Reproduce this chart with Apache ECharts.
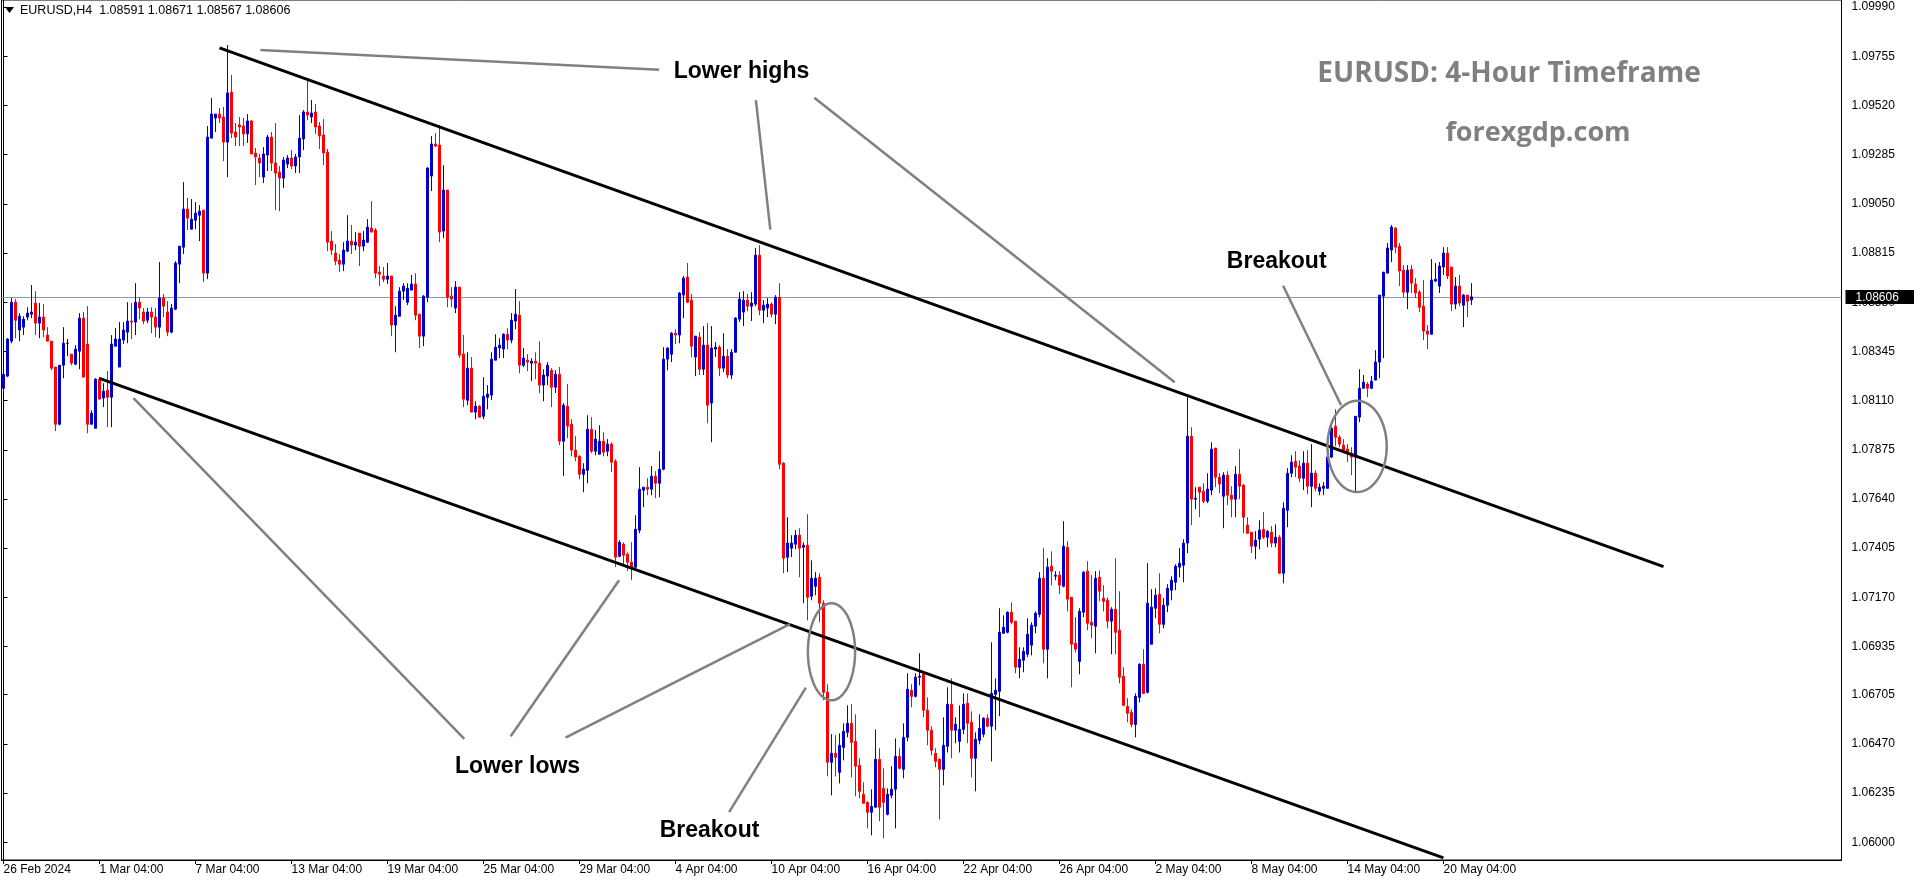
<!DOCTYPE html>
<html><head><meta charset="utf-8">
<script src="https://cdn.jsdelivr.net/npm/echarts@6.0.0/dist/echarts.min.js"></script>
<style>html,body{margin:0;padding:0;background:#fff}#c{width:1914px;height:884px}</style>
</head><body><div id="c"></div>
<script>
const opens = [
1.08169,1.08227,1.08394,1.08580,1.08447,1.08461,1.08509,1.08523,1.08576,1.08480,
1.08509,1.08423,1.08394,1.08270,1.07997,1.08279,1.08384,1.08332,1.08284,1.08346,
1.08504,1.08380,1.07997,1.07978,1.08212,1.08122,1.08160,1.08126,1.08370,1.08270,
1.08399,1.08437,1.08490,1.08485,1.08580,1.08533,1.08494,1.08533,1.08509,1.08461,
1.08600,1.08533,1.08437,1.08547,1.08762,1.08843,1.09025,1.08929,1.08972,1.08996,
1.09020,1.08719,1.09364,1.09460,1.09479,1.09465,1.09345,1.09584,1.09393,1.09427,
1.09422,1.09384,1.09446,1.09293,1.09269,1.09178,1.09283,1.09369,1.09245,1.09202,
1.09173,1.09240,1.09269,1.09231,1.09274,1.09360,1.09489,1.09465,1.09489,1.09422,
1.09379,1.09297,1.08872,1.08815,1.08781,1.08762,1.08824,1.08872,1.08853,1.08910,
1.08848,1.08867,1.08934,1.08925,1.08724,1.08705,1.08690,1.08705,1.08471,1.08513,
1.08633,1.08580,1.08638,1.08667,1.08523,1.08418,1.08604,1.09183,1.09336,1.09331,
1.08920,1.09116,1.08609,1.08552,1.08652,1.08332,1.08112,1.08265,1.08055,1.08083,
1.08035,1.08126,1.08136,1.08303,1.08361,1.08356,1.08427,1.08399,1.08490,1.08518,
1.08279,1.08303,1.08289,1.08298,1.08289,1.08184,1.08227,1.08255,1.08174,1.08236,
1.07916,1.08083,1.07997,1.07873,1.07844,1.07758,1.07777,1.07973,1.07868,1.07854,
1.07916,1.07868,1.07902,1.07820,1.07366,1.07424,1.07376,1.07338,1.07314,1.07491,
1.07682,1.07696,1.07687,1.07749,1.07715,1.07782,1.08308,1.08332,1.08432,1.08423,
1.08614,1.08700,1.08590,1.08318,1.08413,1.08260,1.08375,1.08098,1.08356,1.08365,
1.08265,1.08322,1.08232,1.08341,1.08499,1.08533,1.08590,1.08561,1.08571,1.08805,
1.08542,1.08552,1.08571,1.08523,1.08604,1.07811,1.07362,1.07405,1.07424,1.07467,
1.07409,1.07419,1.07175,1.07223,1.07266,1.07142,1.06716,1.06382,1.06425,1.06334,
1.06453,1.06525,1.06568,1.06482,1.06367,1.06229,1.06190,1.06143,1.06167,1.06396,
1.06257,1.06133,1.06224,1.06253,1.06410,1.06348,1.06501,1.06726,1.06697,1.06788,
1.06802,1.06630,1.06535,1.06425,1.06396,1.06348,1.06458,1.06659,1.06535,1.06482,
1.06539,1.06664,1.06573,1.06401,1.06487,1.06516,1.06592,1.06554,1.06707,1.06721,
1.06998,1.07003,1.07099,1.07056,1.06836,1.06869,1.06898,1.06941,1.07032,1.07089,
1.07261,1.06922,1.07319,1.07271,1.07276,1.07223,1.07409,1.07170,1.06951,1.06864,
1.07099,1.07295,1.07051,1.07032,1.07266,1.07166,1.07156,1.07056,1.07113,1.07013,
1.06793,1.06649,1.06621,1.06563,1.06692,1.06850,1.06716,1.06946,1.07118,1.07185,
1.07041,1.07132,1.07204,1.07242,1.07314,1.07323,1.07429,1.07940,1.07639,1.07696,
1.07677,1.07629,1.07682,1.07883,1.07744,1.07653,1.07754,1.07658,1.07639,1.07758,
1.07706,1.07515,1.07481,1.07414,1.07448,1.07495,1.07457,1.07481,1.07429,1.07457,
1.07285,1.07586,1.07763,1.07820,1.07797,1.07739,1.07811,1.07701,1.07763,1.07677,
1.07691,1.07691,1.07840,1.07988,1.07935,1.07897,1.07878,1.07859,1.07840,1.08031,
1.08169,1.08189,1.08169,1.08208,1.08294,1.08609,1.08719,1.08829,1.08934,1.08848,
1.08733,1.08628,1.08738,1.08667,1.08628,1.08561,1.08442,1.08427,1.08681,1.08657,
1.08748,1.08815,1.08748,1.08571,1.08657,1.08566,1.08614,1.08591];
const closes = [
1.08236,1.08404,1.08580,1.08494,1.08513,1.08499,1.08528,1.08533,1.08480,1.08509,
1.08447,1.08394,1.08265,1.07997,1.08279,1.08384,1.08384,1.08289,1.08356,1.08504,
1.08222,1.07997,1.08050,1.08212,1.08117,1.08155,1.08126,1.08380,1.08404,1.08404,
1.08447,1.08490,1.08485,1.08580,1.08552,1.08490,1.08533,1.08509,1.08461,1.08600,
1.08561,1.08437,1.08552,1.08767,1.08848,1.09025,1.08982,1.08977,1.09006,1.09015,
1.08719,1.09369,1.09479,1.09479,1.09460,1.09345,1.09580,1.09388,1.09369,1.09417,
1.09384,1.09446,1.09288,1.09274,1.09245,1.09288,1.09369,1.09245,1.09197,1.09173,
1.09259,1.09269,1.09231,1.09274,1.09364,1.09489,1.09474,1.09484,1.09417,1.09374,
1.09293,1.08867,1.08829,1.08776,1.08762,1.08829,1.08872,1.08853,1.08867,1.08848,
1.08877,1.08939,1.08915,1.08719,1.08714,1.08690,1.08705,1.08471,1.08518,1.08633,
1.08657,1.08647,1.08667,1.08518,1.08418,1.08609,1.09221,1.09336,1.09326,1.08915,
1.09116,1.08604,1.08595,1.08652,1.08327,1.08117,1.08265,1.08055,1.08083,1.08031,
1.08131,1.08141,1.08308,1.08365,1.08375,1.08427,1.08399,1.08494,1.08523,1.08279,
1.08313,1.08294,1.08298,1.08289,1.08184,1.08232,1.08279,1.08174,1.08236,1.07916,
1.08088,1.07988,1.07873,1.07840,1.07758,1.07782,1.07973,1.07868,1.07926,1.07916,
1.07863,1.07902,1.07816,1.07362,1.07433,1.07371,1.07338,1.07314,1.07495,1.07687,
1.07696,1.07687,1.07749,1.07715,1.07782,1.08308,1.08361,1.08432,1.08423,1.08624,
1.08695,1.08580,1.08370,1.08418,1.08260,1.08375,1.08088,1.08361,1.08365,1.08265,
1.08322,1.08232,1.08341,1.08504,1.08595,1.08590,1.08561,1.08576,1.08805,1.08542,
1.08566,1.08571,1.08523,1.08604,1.07806,1.07357,1.07429,1.07429,1.07467,1.07405,
1.07419,1.07170,1.07261,1.07261,1.07142,1.06716,1.06382,1.06425,1.06406,1.06463,
1.06530,1.06568,1.06477,1.06363,1.06243,1.06186,1.06143,1.06171,1.06396,1.06167,
1.06190,1.06229,1.06253,1.06410,1.06353,1.06501,1.06731,1.06697,1.06788,1.06793,
1.06630,1.06535,1.06439,1.06386,1.06348,1.06463,1.06659,1.06535,1.06563,1.06539,
1.06659,1.06568,1.06401,1.06492,1.06544,1.06592,1.06554,1.06711,1.06726,1.07003,
1.07027,1.07099,1.07051,1.06836,1.06874,1.06912,1.06994,1.07037,1.07094,1.07261,
1.06922,1.07314,1.07295,1.07276,1.07228,1.07414,1.07161,1.06946,1.06922,1.07103,
1.07290,1.07046,1.07037,1.07261,1.07199,1.07151,1.07056,1.07113,1.07003,1.06788,
1.06654,1.06616,1.06563,1.06697,1.06850,1.06711,1.07142,1.07123,1.07180,1.07041,
1.07132,1.07213,1.07252,1.07319,1.07333,1.07429,1.07940,1.07639,1.07644,1.07672,
1.07629,1.07687,1.07878,1.07744,1.07711,1.07754,1.07658,1.07639,1.07758,1.07701,
1.07553,1.07476,1.07414,1.07443,1.07491,1.07457,1.07486,1.07429,1.07457,1.07285,
1.07596,1.07763,1.07816,1.07792,1.07739,1.07811,1.07701,1.07763,1.07691,1.07696,
1.07701,1.07840,1.07978,1.07935,1.07902,1.07873,1.07859,1.07840,1.08035,1.08169,
1.08198,1.08169,1.08203,1.08294,1.08614,1.08724,1.08839,1.08939,1.08843,1.08729,
1.08628,1.08733,1.08671,1.08624,1.08556,1.08442,1.08427,1.08686,1.08690,1.08753,
1.08815,1.08705,1.08571,1.08657,1.08576,1.08614,1.08585,1.08606];
const lows = [
1.08146,1.08222,1.08384,1.08408,1.08394,1.08423,1.08494,1.08504,1.08423,1.08408,
1.08413,1.08394,1.08255,1.07964,1.07992,1.08217,1.08322,1.08279,1.08279,1.08260,
1.08222,1.07954,1.07997,1.07978,1.08117,1.08079,1.07983,1.07983,1.08370,1.08270,
1.08380,1.08384,1.08404,1.08423,1.08499,1.08475,1.08480,1.08432,1.08413,1.08408,
1.08509,1.08418,1.08432,1.08542,1.08671,1.08810,1.08925,1.08929,1.08929,1.08872,
1.08676,1.08690,1.09364,1.09393,1.09436,1.09254,1.09178,1.09364,1.09326,1.09326,
1.09326,1.09341,1.09288,1.09140,1.09178,1.09149,1.09207,1.09207,1.09020,1.09015,
1.09125,1.09221,1.09216,1.09197,1.09197,1.09307,1.09450,1.09436,1.09384,1.09312,
1.09235,1.08824,1.08805,1.08757,1.08724,1.08729,1.08819,1.08810,1.08829,1.08753,
1.08824,1.08863,1.08915,1.08695,1.08657,1.08676,1.08667,1.08418,1.08341,1.08513,
1.08590,1.08566,1.08638,1.08494,1.08361,1.08370,1.08580,1.09111,1.09321,1.08867,
1.08886,1.08556,1.08556,1.08528,1.08313,1.08079,1.08088,1.08055,1.08021,1.08031,
1.08021,1.08069,1.08112,1.08303,1.08313,1.08313,1.08356,1.08384,1.08451,1.08241,
1.08270,1.08251,1.08203,1.08212,1.08146,1.08107,1.08184,1.08079,1.08146,1.07897,
1.07749,1.07930,1.07844,1.07820,1.07734,1.07672,1.07715,1.07859,1.07849,1.07854,
1.07844,1.07844,1.07768,1.07314,1.07362,1.07323,1.07295,1.07252,1.07309,1.07476,
1.07601,1.07658,1.07658,1.07644,1.07648,1.07777,1.08255,1.08294,1.08380,1.08384,
1.08504,1.08576,1.08318,1.08227,1.08232,1.08232,1.08002,1.07911,1.08318,1.08227,
1.08246,1.08217,1.08212,1.08341,1.08485,1.08466,1.08537,1.08490,1.08561,1.08518,
1.08480,1.08509,1.08509,1.08475,1.07782,1.07285,1.07290,1.07362,1.07400,1.07266,
1.07142,1.07060,1.07156,1.07180,1.07051,1.06678,1.06315,1.06224,1.06315,1.06281,
1.06391,1.06501,1.06310,1.06219,1.06210,1.06186,1.06066,1.06033,1.06167,1.06100,
1.06018,1.06128,1.06210,1.06066,1.06348,1.06305,1.06482,1.06645,1.06692,1.06750,
1.06597,1.06463,1.06415,1.06358,1.06109,1.06272,1.06429,1.06401,1.06473,1.06429,
1.06516,1.06473,1.06310,1.06243,1.06468,1.06501,1.06549,1.06386,1.06535,1.06602,
1.06998,1.06998,1.07041,1.06807,1.06783,1.06812,1.06884,1.06893,1.06998,1.07075,
1.06855,1.06783,1.07228,1.07252,1.07185,1.07218,1.07103,1.06740,1.06907,1.06802,
1.07075,1.07013,1.06974,1.06903,1.07151,1.07103,1.07022,1.06898,1.06898,1.06759,
1.06649,1.06573,1.06549,1.06501,1.06668,1.06707,1.06711,1.06946,1.07070,1.06998,
1.07022,1.07099,1.07156,1.07204,1.07266,1.07242,1.07381,1.07515,1.07591,1.07553,
1.07620,1.07620,1.07658,1.07696,1.07668,1.07500,1.07610,1.07553,1.07553,1.07639,
1.07476,1.07476,1.07381,1.07352,1.07400,1.07448,1.07409,1.07409,1.07409,1.07285,
1.07237,1.07505,1.07744,1.07744,1.07720,1.07682,1.07663,1.07601,1.07677,1.07658,
1.07658,1.07691,1.07835,1.07892,1.07887,1.07859,1.07816,1.07754,1.07668,1.08007,
1.08169,1.08126,1.08165,1.08208,1.08217,1.08313,1.08719,1.08772,1.08815,1.08657,
1.08604,1.08547,1.08624,1.08600,1.08533,1.08399,1.08356,1.08427,1.08676,1.08624,
1.08710,1.08690,1.08537,1.08547,1.08561,1.08461,1.08509,1.08567];
const highs = [
1.08241,1.08408,1.08600,1.08595,1.08528,1.08513,1.08556,1.08662,1.08633,1.08576,
1.08571,1.08461,1.08394,1.08270,1.08279,1.08461,1.08404,1.08332,1.08375,1.08528,
1.08533,1.08561,1.08064,1.08217,1.08222,1.08193,1.08251,1.08423,1.08456,1.08485,
1.08485,1.08580,1.08576,1.08671,1.08604,1.08552,1.08552,1.08556,1.08552,1.08772,
1.08619,1.08585,1.08571,1.08776,1.08848,1.09154,1.09078,1.09073,1.09058,1.09044,
1.09020,1.09422,1.09556,1.09479,1.09508,1.09513,1.09809,1.09666,1.09436,1.09465,
1.09460,1.09479,1.09450,1.09317,1.09288,1.09321,1.09379,1.09393,1.09436,1.09231,
1.09274,1.09283,1.09307,1.09288,1.09474,1.09498,1.09642,1.09546,1.09527,1.09441,
1.09455,1.09312,1.08920,1.08858,1.08810,1.08867,1.08996,1.08949,1.08915,1.08910,
1.08920,1.08977,1.09063,1.08934,1.08753,1.08748,1.08767,1.08705,1.08561,1.08652,
1.08671,1.08671,1.08710,1.08719,1.08523,1.08614,1.09226,1.09374,1.09388,1.09427,
1.09235,1.09116,1.08652,1.08681,1.08652,1.08423,1.08341,1.08318,1.08107,1.08088,
1.08222,1.08184,1.08341,1.08427,1.08408,1.08432,1.08456,1.08528,1.08643,1.08585,
1.08361,1.08332,1.08313,1.08341,1.08394,1.08260,1.08294,1.08265,1.08255,1.08270,
1.08098,1.08189,1.08021,1.07940,1.07849,1.07811,1.08040,1.08031,1.07969,1.07992,
1.07959,1.07926,1.07911,1.07830,1.07443,1.07433,1.07385,1.07433,1.07562,1.07792,
1.07696,1.07739,1.07797,1.07773,1.07868,1.08365,1.08365,1.08437,1.08451,1.08628,
1.08705,1.08767,1.08619,1.08418,1.08437,1.08466,1.08480,1.08466,1.08389,1.08375,
1.08432,1.08356,1.08356,1.08509,1.08628,1.08633,1.08619,1.08628,1.08839,1.08853,
1.08590,1.08600,1.08580,1.08614,1.08671,1.07816,1.07553,1.07467,1.07491,1.07500,
1.07433,1.07567,1.07347,1.07290,1.07285,1.07156,1.06755,1.06516,1.06511,1.06520,
1.06568,1.06654,1.06659,1.06611,1.06401,1.06286,1.06195,1.06253,1.06539,1.06449,
1.06353,1.06257,1.06363,1.06496,1.06449,1.06568,1.06807,1.06755,1.06807,1.06903,
1.06812,1.06692,1.06554,1.06449,1.06401,1.06597,1.06740,1.06783,1.06597,1.06654,
1.06711,1.06711,1.06625,1.06525,1.06611,1.06597,1.06611,1.06955,1.06783,1.07118,
1.07084,1.07103,1.07146,1.07056,1.06931,1.06931,1.07070,1.07051,1.07103,1.07290,
1.07405,1.07357,1.07390,1.07295,1.07295,1.07534,1.07438,1.07170,1.07075,1.07118,
1.07295,1.07342,1.07276,1.07295,1.07299,1.07228,1.07170,1.07123,1.07357,1.07199,
1.06836,1.06688,1.06635,1.06711,1.06855,1.06922,1.07333,1.07209,1.07213,1.07285,
1.07166,1.07233,1.07271,1.07328,1.07405,1.07448,1.08126,1.07983,1.07696,1.07696,
1.07715,1.07763,1.07911,1.07883,1.07763,1.07768,1.07773,1.07701,1.07797,1.07878,
1.07711,1.07553,1.07481,1.07486,1.07538,1.07577,1.07491,1.07510,1.07519,1.07467,
1.07624,1.07787,1.07849,1.07868,1.07825,1.07868,1.07873,1.07902,1.07777,1.07715,
1.07720,1.07849,1.08002,1.08069,1.07945,1.07926,1.07902,1.07887,1.08035,1.08260,
1.08232,1.08198,1.08227,1.08351,1.08614,1.08724,1.08863,1.08949,1.08939,1.08863,
1.08757,1.08757,1.08757,1.08695,1.08638,1.08686,1.08471,1.08786,1.08767,1.08772,
1.08843,1.08843,1.08748,1.08700,1.08710,1.08619,1.08614,1.08671];

const dateTickLabels = ["26 Feb 2024","1 Mar 04:00","7 Mar 04:00","13 Mar 04:00","19 Mar 04:00","25 Mar 04:00","29 Mar 04:00","4 Apr 04:00","10 Apr 04:00","16 Apr 04:00","22 Apr 04:00","26 Apr 04:00","2 May 04:00","8 May 04:00","14 May 04:00","20 May 04:00"];
const priceTickLabels = ["1.09990","1.09755","1.09520","1.09285","1.09050","1.08815","1.08580","1.08345","1.08110","1.07875","1.07640","1.07405","1.07170","1.06935","1.06705","1.06470","1.06235","1.06000"];
const lastPrice = 1.08606;
const headerText = "EURUSD,H4  1.08591 1.08671 1.08567 1.08606";
const titleText = "EURUSD: 4-Hour Timeframe";
const siteText = "forexgdp.com";
// trend lines: [barIndex1, price1, barIndex2, price2]
const trendLines = [[54, 1.09795, 415, 1.07317], [24, 1.08216, 360, 1.05925]];
const pointerLines = [
 [64.2, 1.09785, 163.9, 1.09691],
 [188.1, 1.09546, 191.7, 1.08927],
 [202.7, 1.09557, 292.8, 1.08198],
 [32.5, 1.08122, 115.2, 1.06494],
 [126.8, 1.06506, 153.9, 1.07252],
 [140.5, 1.06500, 196.6, 1.07042],
 [181.4, 1.06144, 200.6, 1.06739],
 [319.9, 1.08659, 334.4, 1.08088]];
// ellipses: [centerBar, centerPrice, radiusBars, radiusPrice]
const ellipses = [[207, 1.06910, 5.9, 0.00232], [338.4, 1.07891, 7.4, 0.00218]];
const notes = [[184.5, 1.09680, "Lower highs"], [128.5, 1.06362, "Lower lows"], [176.5, 1.06056, "Breakout"], [318.3, 1.08775, "Breakout"]];

const SLOTS = 460;
const cats = Array.from({length: SLOTS}, (_, i) => String(i));
const showTick = (i) => i % 24 === 0 && (i / 24) < dateTickLabels.length;
const candleData = opens.map((o, i) => {
  const item = { value: [o, closes[i], lows[i], highs[i]] };
  if (o === closes[i]) item.itemStyle = { color: '#000', color0: '#000', borderColor: '#000', borderColor0: '#000' };
  return item;
});
const UP = '#0000CC', DOWN = '#FF0000';
const FONT = '"Liberation Sans", Arial, sans-serif';

const chart = echarts.init(document.getElementById('c'), null, { renderer: 'canvas' });
chart.setOption({
  animation: false,
  backgroundColor: '#fff',
  grid: { left: 1.5, right: 72.5, top: 0, bottom: 24, show: true, borderColor: '#000', borderWidth: 1, backgroundColor: '#fff' },
  xAxis: [{
    type: 'category', data: cats, boundaryGap: true,
    axisLine: { show: true, lineStyle: { color: '#000', width: 1 } },
    axisTick: { show: true, alignWithLabel: true, interval: (i) => showTick(i), length: 4, lineStyle: { color: '#000' } },
    axisLabel: { show: true, interval: (i) => showTick(i), formatter: (v, i) => dateTickLabels[Math.round(Number(v) / 24)] || '', align: 'left', margin: 4, color: '#000', fontFamily: FONT, fontSize: 12 },
    splitLine: { show: false }
  }, {
    type: 'value', min: -0.5, max: SLOTS - 0.5, show: false
  }],
  yAxis: {
    type: 'value', position: 'right', min: 1.05915, max: 1.10024,
    axisLine: { show: true, lineStyle: { color: '#000' } },
    axisTick: { show: true, inside: false, length: 4, lineStyle: { color: '#000' }, customValues: priceTickLabels.map(Number) },
    axisLabel: { show: true, customValues: priceTickLabels.map(Number), formatter: (v) => v.toFixed(5), color: '#000', margin: 10, fontFamily: FONT, fontSize: 12 },
    splitLine: { show: false }
  },
  graphic: [
    { type: 'polygon', shape: { points: [[5, 7], [14, 7], [9.5, 13]] }, style: { fill: '#000' }, z: 100 },
    { type: 'text', left: 20, top: 4, style: { text: headerText, font: '12.5px ' + FONT, fill: '#000' }, z: 100 },
    { type: 'text', x: 1509, y: 74, style: { text: titleText, font: 'bold 28px "Open Sans"', fill: '#808080', align: 'center', verticalAlign: 'middle' }, z: 100 },
    { type: 'text', x: 1538, y: 133, style: { text: siteText, font: 'bold 27px "Open Sans"', fill: '#808080', align: 'center', verticalAlign: 'middle' }, z: 100 }
  ],
  series: [
    {
      type: 'custom', xAxisIndex: 1, yAxisIndex: 0, data: [[lastPrice]], encode: { y: 0 }, z: 1, clip: false, silent: true,
      renderItem: (p, api) => {
        const a = api.coord([-0.5, api.value(0)]), b = api.coord([SLOTS - 0.5, api.value(0)]);
        const y = Math.round(a[1]) + 0.5;
        return { type: 'group', children: [
          { type: 'line', shape: { x1: a[0], y1: y, x2: b[0], y2: y }, style: { stroke: '#8C98A8', lineWidth: 1 } },
          { type: 'rect', shape: { x: b[0] + 4, y: y - 7.5, width: 80, height: 14 }, style: { fill: '#000' }, z2: 50 },
          { type: 'text', x: b[0] + 14, y: y, style: { text: lastPrice.toFixed(5), fill: '#fff', font: '12px ' + FONT, verticalAlign: 'middle', align: 'left' }, z2: 51 }
        ] };
      }
    },
    {
      type: 'candlestick', xAxisIndex: 0, yAxisIndex: 0, data: candleData,
      barWidth: 2,
      itemStyle: { color: UP, color0: DOWN, borderColor: UP, borderColor0: DOWN, borderWidth: 1 },
      z: 3
    },
    {
      type: 'custom', xAxisIndex: 1, yAxisIndex: 0, data: trendLines, encode: { x: [0, 2], y: [1, 3] }, z: 5, clip: true,
      renderItem: (p, api) => {
        const a = api.coord([api.value(0), api.value(1)]), b = api.coord([api.value(2), api.value(3)]);
        return { type: 'line', shape: { x1: a[0], y1: a[1], x2: b[0], y2: b[1] }, style: { stroke: '#000', lineWidth: 3 } };
      }
    },
    {
      type: 'custom', xAxisIndex: 1, yAxisIndex: 0, data: pointerLines, encode: { x: [0, 2], y: [1, 3] }, z: 5,
      renderItem: (p, api) => {
        const a = api.coord([api.value(0), api.value(1)]), b = api.coord([api.value(2), api.value(3)]);
        return { type: 'line', shape: { x1: a[0], y1: a[1], x2: b[0], y2: b[1] }, style: { stroke: '#808080', lineWidth: 2.5 } };
      }
    },
    {
      type: 'custom', xAxisIndex: 1, yAxisIndex: 0, data: ellipses, encode: { x: 0, y: 1 }, z: 5,
      renderItem: (p, api) => {
        const cx = api.value(0), cy = api.value(1), rx = api.value(2), ry = api.value(3);
        const pts = [];
        for (let i = 0; i <= 90; i++) {
          const t = i / 90 * Math.PI * 2;
          pts.push(api.coord([cx + rx * Math.cos(t), cy + ry * Math.sin(t)]));
        }
        return { type: 'polyline', shape: { points: pts }, style: { stroke: '#808080', lineWidth: 2.5, fill: null } };
      }
    },
    {
      type: 'custom', xAxisIndex: 1, yAxisIndex: 0, data: notes, encode: { x: 0, y: 1 }, z: 6,
      renderItem: (p, api) => {
        const c = api.coord([api.value(0), api.value(1)]);
        return { type: 'text', x: c[0], y: c[1], style: { text: notes[p.dataIndex][2], font: 'bold 23px ' + FONT, fill: '#000', align: 'center', verticalAlign: 'middle' } };
      }
    }
  ]
});
</script>
</body></html>
